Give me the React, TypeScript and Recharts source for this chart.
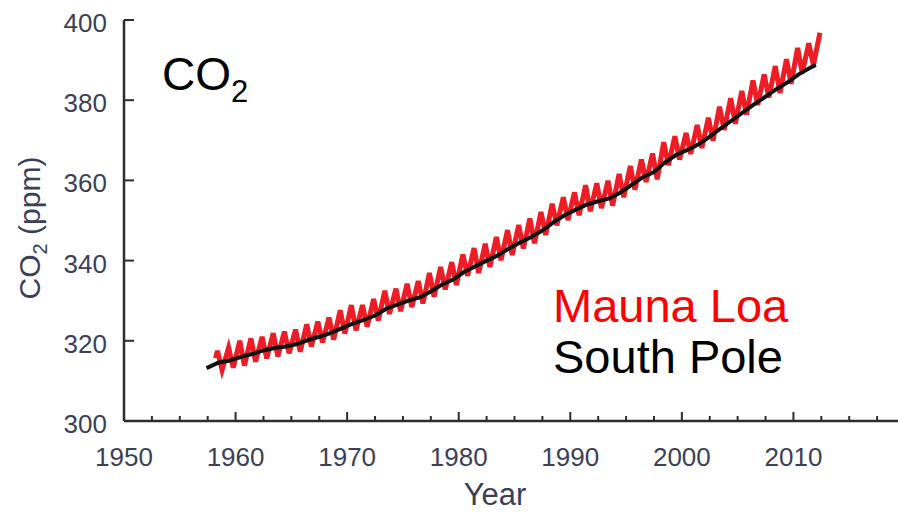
import { LineChart, Line, XAxis, YAxis } from "recharts";

// Mauna Loa: seasonal maxima (May) and minima (Oct)
const mlYears: number[] = [
  1958, 1959, 1960, 1961, 1962, 1963, 1964, 1965, 1966, 1967,
  1968, 1969, 1970, 1971, 1972, 1973, 1974, 1975, 1976, 1977,
  1978, 1979, 1980, 1981, 1982, 1983, 1984, 1985, 1986, 1987,
  1988, 1989, 1990, 1991, 1992, 1993, 1994, 1995, 1996, 1997,
  1998, 1999, 2000, 2001, 2002, 2003, 2004, 2005, 2006, 2007,
  2008, 2009, 2010, 2011, 2012,
];
const mlPeaks: number[] = [
  317.5, 318.3, 320.0, 320.6, 321.0, 321.9, 322.3, 322.8, 324.1, 324.8,
  325.8, 327.6, 328.9, 328.9, 330.4, 332.5, 333.0, 334.2, 334.9, 336.9,
  338.4, 339.6, 341.5, 343.1, 344.2, 345.9, 347.6, 348.9, 350.5, 352.1,
  354.2, 355.8, 357.0, 358.8, 359.3, 359.9, 361.6, 363.6, 365.2, 366.7,
  369.5, 371.0, 371.8, 373.8, 375.6, 378.4, 380.5, 382.3, 384.9, 386.4,
  388.5, 390.2, 393.0, 394.2, 396.8,
];
const mlTroughs: number[] = [
  312.7, 313.3, 313.8, 314.8, 315.6, 316.1, 316.9, 317.3, 318.6, 319.6,
  320.3, 321.8, 322.6, 323.5, 325.1, 326.7, 327.4, 328.4, 329.3, 331.0,
  332.8, 333.9, 336.2, 336.9, 338.4, 340.1, 341.4, 343.0, 344.3, 346.4,
  348.8, 350.1, 351.3, 352.3, 353.1, 353.7, 355.8, 357.7, 359.6, 360.3,
  363.8, 365.2, 366.6, 368.1, 369.9, 372.6, 374.1, 376.4, 378.8, 380.7,
  381.8, 384.1, 386.8, 388.7,
];
const mlFirst = { year: 1958.2, co2: 315.7 };

// South Pole: smoother record
const spYears: number[] = [
  1957.4, 1958.5, 1959.5, 1960.5, 1961.5, 1962.5, 1963.5, 1964.5, 1965.5, 1966.5,
  1967.5, 1968.5, 1969.5, 1970.5, 1971.5, 1972.5, 1973.5, 1974.5, 1975.5, 1976.5,
  1977.5, 1978.5, 1979.5, 1980.5, 1981.5, 1982.5, 1983.5, 1984.5, 1985.5, 1986.5,
  1987.5, 1988.5, 1989.5, 1990.5, 1991.5, 1992.5, 1993.5, 1994.5, 1995.5, 1996.5,
  1997.5, 1998.5, 1999.5, 2000.5, 2001.5, 2002.5, 2003.5, 2004.5, 2005.5, 2006.5,
  2007.5, 2008.5, 2009.5, 2010.5, 2011.5, 2012.0,
];
const spValues: number[] = [
  313.2, 314.6, 315.1, 316.0, 316.7, 317.6, 318.2, 318.6, 319.2, 320.2,
  321.0, 321.9, 323.1, 324.3, 325.2, 326.3, 328.0, 329.0, 330.0, 330.8,
  332.3, 334.0, 335.3, 337.2, 338.6, 340.0, 341.3, 343.0, 344.5, 345.9,
  347.5, 349.6, 351.3, 352.7, 354.0, 354.8, 355.5, 357.0, 358.9, 360.8,
  362.1, 364.5, 366.4, 367.6, 369.0, 370.9, 373.0, 375.0, 377.0, 379.0,
  380.9, 382.8, 384.5, 386.5, 388.1, 388.8,
];

const xTicks: number[] = [
  1950, 1952.5, 1955, 1957.5, 1960, 1962.5, 1965, 1967.5, 1970, 1972.5,
  1975, 1977.5, 1980, 1982.5, 1985, 1987.5, 1990, 1992.5, 1995, 1997.5,
  2000, 2002.5, 2005, 2007.5, 2010, 2012.5, 2015, 2017.5, 2020,
];
const xLabels: number[] = [1950, 1960, 1970, 1980, 1990, 2000, 2010];
const topTicks: number[] = [1950, 1960, 1970, 1980, 1990, 2000, 2010, 2020];
const yTicks: number[] = [300, 320, 340, 360, 380, 400];

const mlData: { year: number; co2: number }[] = [mlFirst];
mlYears.forEach((y, i) => {
  mlData.push({ year: y + 4.5 / 12, co2: mlPeaks[i] });
  if (i < mlTroughs.length) mlData.push({ year: y + 9.5 / 12, co2: mlTroughs[i] });
});
const spData = spYears.map((y, i) => ({ year: y, co2: spValues[i] }));

const AXIS = "#2e2e2e";
const TICK_TEXT = "#3c3f58";
const FONT = "'Liberation Sans', Arial, sans-serif";

const BottomTick = (props: any) => {
  const { x, y, payload } = props;
  const v = payload.value;
  const major = v % 10 === 0;
  return (
    <g>
      <line x1={x} y1={y} x2={x} y2={y - (major ? 9 : 5)} stroke={AXIS} strokeWidth={2} />
      {xLabels.includes(v) && (
        <text x={x} y={y + 45} textAnchor="middle" fontSize={26} fontFamily={FONT} fill={TICK_TEXT}>
          {v}
        </text>
      )}
    </g>
  );
};

const TopTick = (props: any) => {
  const { x, y } = props;
  return <line x1={x} y1={y} x2={x} y2={y + 10} stroke={AXIS} strokeWidth={2} />;
};

const LeftTick = (props: any) => {
  const { x, y, payload } = props;
  return (
    <g>
      <line x1={x} y1={y} x2={x + 10} y2={y} stroke={AXIS} strokeWidth={2} />
      <text x={x - 17} y={y + 12} textAnchor="end" fontSize={26} fontFamily={FONT} fill={TICK_TEXT}>
        {payload.value}
      </text>
    </g>
  );
};

const RightTick = (props: any) => {
  const { x, y } = props;
  return <line x1={x} y1={y} x2={x - 10} y2={y} stroke={AXIS} strokeWidth={2} />;
};

export default function App() {
  return (
    <div style={{ position: "fixed", left: 0, top: 0, width: 898, height: 514, overflow: "hidden", background: "#fff" }}>
      <LineChart width={898} height={514} margin={{ top: 20, right: -7, left: 0, bottom: 33 }}>
        <XAxis
          dataKey="year"
          type="number"
          domain={[1950, 2020]}
          ticks={xTicks}
          interval={0}
          allowDataOverflow
          height={60}
          tickSize={0}
          tickMargin={0}
          tick={<BottomTick />}
          axisLine={{ stroke: AXIS, strokeWidth: 2.5 }}
        />
        <XAxis
          xAxisId="top"
          orientation="top"
          type="number"
          domain={[1950, 2020]}
          ticks={topTicks}
          interval={0}
          allowDataOverflow
          height={0}
          tickSize={0}
          tickMargin={0}
          tick={<TopTick />}
          axisLine={{ stroke: AXIS, strokeWidth: 2.5 }}
        />
        <YAxis
          type="number"
          domain={[300, 400]}
          ticks={yTicks}
          interval={0}
          allowDataOverflow
          width={124}
          tickSize={0}
          tickMargin={0}
          tick={<LeftTick />}
          axisLine={{ stroke: AXIS, strokeWidth: 2.5 }}
        />
        <YAxis
          yAxisId="right"
          orientation="right"
          type="number"
          domain={[300, 400]}
          ticks={yTicks}
          interval={0}
          allowDataOverflow
          width={0}
          tickSize={0}
          tickMargin={0}
          tick={<RightTick />}
          axisLine={{ stroke: AXIS, strokeWidth: 2.5 }}
        />
        <Line
          data={mlData}
          dataKey="co2"
          type="linear"
          stroke="#ee1c25"
          strokeWidth={5}
          dot={false}
          isAnimationActive={false}
        />
        <Line
          data={spData}
          dataKey="co2"
          type="linear"
          stroke="#111111"
          strokeWidth={4}
          dot={false}
          isAnimationActive={false}
        />
      </LineChart>
      <svg width={898} height={514} style={{ position: "absolute", left: 0, top: 0, pointerEvents: "none" }}>
        <text x={162} y={90} fontSize={46} fontFamily={FONT} fill="#000">
          CO
          <tspan fontSize={31} dy={12}>2</tspan>
        </text>
        <text x={553} y={322} fontSize={47} fontFamily={FONT} fill="#ff0000">
          Mauna Loa
        </text>
        <text x={553} y={373} fontSize={47} fontFamily={FONT} fill="#000">
          South Pole
        </text>
        <text x={495} y={505} textAnchor="middle" fontSize={31} fontFamily={FONT} fill={TICK_TEXT}>
          Year
        </text>
        <text
          transform="translate(40, 228) rotate(-90)"
          textAnchor="middle"
          fontSize={30}
          fontFamily={FONT}
          fill={TICK_TEXT}
        >
          CO
          <tspan fontSize={20} dy={7}>2</tspan>
          <tspan dy={-7}> (ppm)</tspan>
        </text>
      </svg>
    </div>
  );
}
